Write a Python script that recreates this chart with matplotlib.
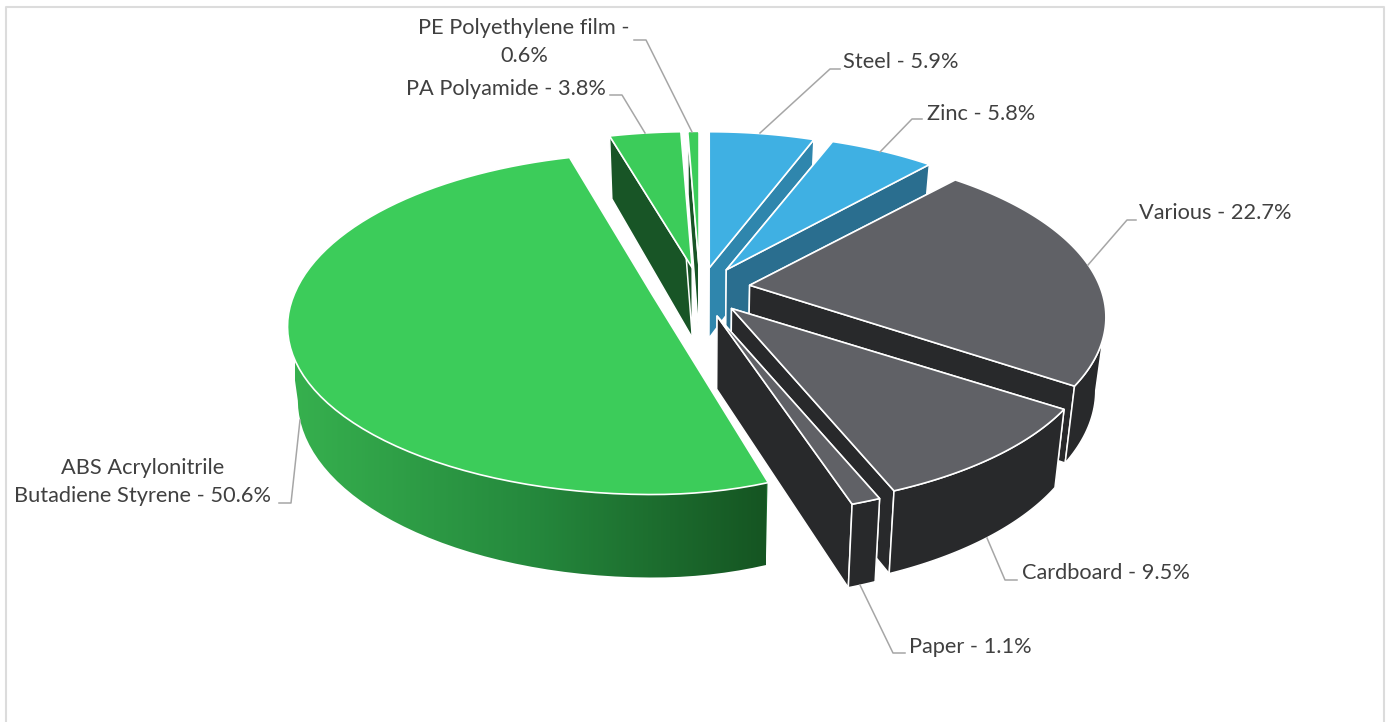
import numpy as np
import matplotlib
matplotlib.use("Agg")
import matplotlib.pyplot as plt
from matplotlib.colors import LinearSegmentedColormap
from matplotlib.patches import Polygon

# data, clockwise from 12 o'clock
materials = ["Steel", "Zinc", "Various", "Cardboard", "Paper",
             "ABS Acrylonitrile Butadiene Styrene", "PA Polyamide", "PE Polyethylene film"]
shares = [5.9, 5.8, 22.7, 9.5, 1.1, 50.6, 3.8, 0.6]

label_texts = ["Steel - 5.9%", "Zinc - 5.8%", "Various - 22.7%", "Cardboard - 9.5%", "Paper - 1.1%",
               "ABS Acrylonitrile\nButadiene Styrene - 50.6%", "PA Polyamide - 3.8%",
               "PE Polyethylene film -\n0.6%"]

top_colors = ["#3fb0e3", "#3fb0e3", "#606166", "#606166", "#606166", "#3ccc5a", "#3ccc5a", "#3ccc5a"]
wall_colors = ["#2f86ad", "#2a6e8f", "#28292b", "#28292b", "#28292b", "#1a6a2c", "#185526", "#185526"]

# drawing order, back to front
draw_order = [7, 6, 5, 0, 1, 2, 3, 4]

# small per slice corrections of the projection
right_scale = [0.95, 0.965, 0.977, 1, 1, 0.86, 1, 1]
back_scale = [1, 1, 1, 1, 1, 1.04, 1, 1]
y_shift = [2, 1, 0, 3, 7, 0, 2, 2]

# label position, alignment and leader line for each slice
label_pos = [(843, 62, "left"), (927, 114, "left"), (1139, 213, "left"), (1022, 573, "left"),
             (909, 647, "left"), (143, 482, "center"), (406, 89, "left"), (524, 42, "center")]
leaders = [[(760, 133), (830, 69), (840, 69)],
           [(880, 152), (912, 119), (922, 119)],
           [(1088, 265), (1127, 220), (1136, 220)],
           [(987, 538), (1005, 580), (1017, 580)],
           [(860, 585), (893, 653), (905, 653)],
           [(300, 420), (291, 503), (279, 503)],
           [(645, 133), (622, 95), (610, 95)],
           [(692, 132), (646, 40), (634, 40)]]

CX, CY = 700, 288
RX, RY = 358, 162
TILT = 0.45
PERSP = 0.19
EXPLODE = 50


def top_points(frac, mid, i):
    # pie fraction -> pixel on the top face of the exploded slice
    a = 2 * np.pi * np.asarray(frac)
    u, v = np.sin(a), np.cos(a)
    m = 2 * np.pi * mid
    x0 = CX + EXPLODE * np.sin(m)
    y0 = CY - EXPLODE * TILT * np.cos(m) + y_shift[i]
    xs = np.where(u > 0, right_scale[i], 1.0)
    ys = np.where(v > 0, back_scale[i], 1.0)
    return x0 + xs * RX * u / (1 + PERSP * v), y0 - ys * RY * v / (1 + PERSP * v), x0, y0


def drop(x, y):
    # same point on the underside of the pie
    return CX + 0.975 * (np.asarray(x) - CX), 333 + 1.056 * (np.asarray(y) - 263)


fig = plt.figure(figsize=(13.86, 7.22), dpi=100)
ax = fig.add_axes([0, 0, 1, 1])
plt.rcParams["font.family"] = ["Lato", "DejaVu Sans"]

green_wall = LinearSegmentedColormap.from_list("wall", ["#36b04e", "#25893d", "#155522"])

edges = np.cumsum([0] + shares) / sum(shares)


def draw_rim(i, px, py, bx, by):
    rim = np.vstack([np.column_stack([px, py]), np.column_stack([bx, by])[::-1]])
    if materials[i].startswith("ABS"):
        patch = Polygon(rim, facecolor="none", edgecolor="none")
        ax.add_patch(patch)
        im = ax.imshow(np.linspace(0, 1, 256).reshape(1, -1), cmap=green_wall, aspect="auto",
                       extent=[295, 766, 600, 150], zorder=patch.get_zorder())
        im.set_clip_path(patch)
    else:
        ax.add_patch(Polygon(rim, facecolor=wall_colors[i], edgecolor="white", lw=1.1))


def draw_cuts(i, px, py, bx, by, tx, ty, tbx, tby):
    for k in (0, -1):
        ax.add_patch(Polygon([(tx, ty), (px[k], py[k]), (bx[k], by[k]), (tbx, tby)],
                             facecolor=wall_colors[i], edgecolor="white", lw=1.1, joinstyle="round"))


for i in draw_order:
    start, end = edges[i], edges[i + 1]
    mid = (start + end) / 2
    px, py, tx, ty = top_points(np.linspace(start, end, 80), mid, i)
    bx, by = drop(px, py)
    tbx, tby = drop(tx, ty)

    if np.cos(2 * np.pi * mid) > 0.2:
        # slices at the back: the cut faces stand in front of the rim
        draw_rim(i, px, py, bx, by)
        draw_cuts(i, px, py, bx, by, tx, ty, tbx, tby)
    else:
        draw_cuts(i, px, py, bx, by, tx, ty, tbx, tby)
        # only the part of the rim that faces the viewer
        lo, hi = 0, len(px)
        if 0 < np.argmax(px) < len(px) - 1:
            lo = np.argmax(px)
        if 0 < np.argmin(px) < len(px) - 1:
            hi = np.argmin(px) + 1
        draw_rim(i, px[lo:hi], py[lo:hi], bx[lo:hi], by[lo:hi])

    # top face
    outline = np.vstack([[(tx, ty)], np.column_stack([px, py])])
    ax.add_patch(Polygon(outline, facecolor=top_colors[i], edgecolor="white", lw=1.2, joinstyle="round"))

for pts, text, (lx, ly, ha) in zip(leaders, label_texts, label_pos):
    xs, ys = zip(*pts)
    ax.plot(xs, ys, color="#a6a6a6", lw=1.1, zorder=5)
    ax.text(lx, ly, text, ha=ha, va="center", fontsize=15.7, color="#404040", linespacing=1.5,
            multialignment="center", zorder=6)

# chart frame, open at the bottom
ax.plot([6, 6, 1384, 1384], [722, 7, 7, 722], color="#dcdcdc", lw=1.5, zorder=0)

ax.set_xlim(0, 1386)
ax.set_ylim(722, 0)
ax.axis("off")

fig.savefig("out.png", dpi=100, facecolor="white")
